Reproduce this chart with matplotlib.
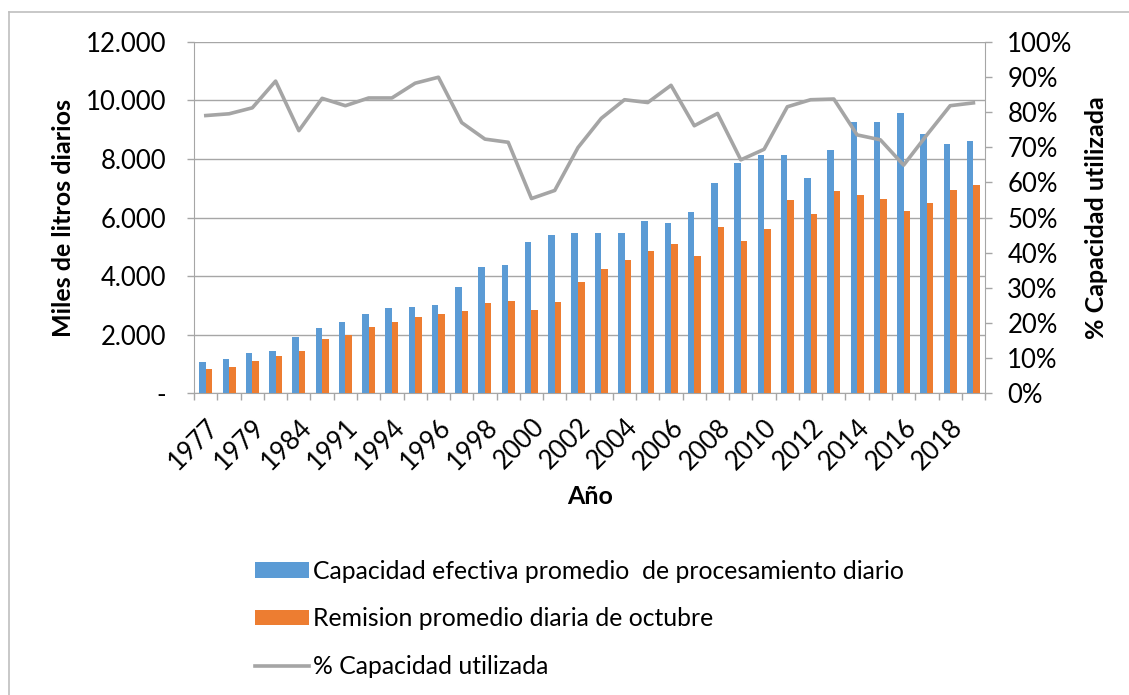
import matplotlib
matplotlib.use("Agg")
import matplotlib.pyplot as plt
from matplotlib.lines import Line2D
from matplotlib.ticker import FixedLocator, FuncFormatter
import numpy as np

plt.rcParams['font.family'] = ['Lato', 'DejaVu Sans']

years = [1977, 1978, 1979, 1982, 1984, 1988, 1991, 1993] + list(range(1994, 2020))

capacidad = [1057, 1159, 1363, 1443, 1920, 2215, 2420, 2704, 2908, 2954,
             3010, 3635, 4305, 4396, 5169, 5419, 5476, 5487, 5487, 5873,
             5828, 6180, 7168, 7861, 8122, 8122, 7339, 8293, 9247, 9247,
             9577, 8850, 8497, 8600]

remision = [829, 909, 1102, 1284, 1431, 1852, 1988, 2261, 2431, 2590,
            2704, 2795, 3090, 3135, 2851, 3113, 3817, 4260, 4567, 4862,
            5089, 4703, 5691, 5192, 5623, 6612, 6112, 6918, 6771, 6634,
            6214, 6487, 6941, 7100]

pct_utilizada = [79.0, 79.5, 81.2, 88.8, 74.7, 83.9, 81.8, 84.0, 84.0, 88.2,
                 89.9, 77.0, 72.3, 71.4, 55.4, 57.7, 69.9, 78.2, 83.5, 82.7,
                 87.6, 76.1, 79.6, 66.4, 69.4, 81.5, 83.5, 83.7, 73.5, 72.1,
                 64.9, 73.5, 81.8, 82.6]

labels = [str(y) for y in years]

BLUE = '#5B9BD5'
ORANGE = '#ED7D31'
GRAY = '#A5A5A5'
GRID = '#A6A6A6'
TICK_FS = 18.5
LAB_FS = 18

fig = plt.figure(figsize=(11.29, 6.95), dpi=100)
ax = fig.add_axes([0.172, 0.434, 0.7005, 0.506])

x = np.arange(len(years))
w = 0.28
b1 = ax.bar(x - w/2, capacidad, w, color=BLUE, zorder=3,
            label='Capacidad efectiva promedio  de procesamiento diario')
b2 = ax.bar(x + w/2, remision, w, color=ORANGE, zorder=3,
            label='Remision promedio diaria de octubre')

ax.set_xlim(-0.5, len(years) - 0.5)
ax.set_ylim(0, 12000)
ax.set_yticks(np.arange(0, 12001, 2000))
ax.yaxis.set_major_formatter(FuncFormatter(
    lambda v, p: '-' if v == 0 else f'{int(v):,}'.replace(',', '.')))
ax.yaxis.grid(True, color=GRID, linewidth=1.0, zorder=0)
ax.set_axisbelow(True)

ax.xaxis.set_major_locator(FixedLocator(x[::2]))
ax.set_xticklabels(labels[::2], rotation=45, ha='right', va='top',
                   rotation_mode='anchor')
ax.xaxis.set_minor_locator(FixedLocator(np.arange(-0.5, len(years), 1)))
ax.tick_params(axis='x', which='major', length=0, pad=15, labelsize=TICK_FS)
ax.tick_params(axis='x', which='minor', length=5, color=GRID, width=1)
ax.tick_params(axis='y', length=5, color=GRID, width=1, labelsize=TICK_FS, pad=15)

for s in ['top', 'right']:
    ax.spines[s].set_visible(False)
ax.spines['left'].set_color(GRID)
ax.spines['bottom'].set_color(GRID)

ax.set_xlabel('Año', fontsize=LAB_FS, fontweight='bold', labelpad=8)
ax.set_ylabel('Miles de litros diarios', fontsize=LAB_FS, fontweight='bold',
              labelpad=8)

ax2 = ax.twinx()
ln, = ax2.plot(x, pct_utilizada, color=GRAY, linewidth=2.6, zorder=4,
               label='% Capacidad utilizada')
ax2.set_ylim(0, 100)
ax2.set_yticks(np.arange(0, 101, 10))
ax2.yaxis.set_major_formatter(FuncFormatter(lambda v, p: f'{int(v)}%'))
ax2.tick_params(axis='y', length=5, color=GRID, width=1, labelsize=TICK_FS, pad=11)
for s in ['top', 'left', 'bottom']:
    ax2.spines[s].set_visible(False)
ax2.spines['right'].set_color(GRID)
ax2.set_ylabel('% Capacidad utilizada', fontsize=LAB_FS, fontweight='bold',
               rotation=90, labelpad=9)

fig.legend(handles=[b1, b2, ln], loc='upper left', bbox_to_anchor=(0.217, 0.209),
           frameon=False, fontsize=17.8, handlelength=2.2, handleheight=0.6,
           handletextpad=0.15, labelspacing=1.0, borderaxespad=0)

fig.add_artist(Line2D([0.008, 0.008], [0, 0.983], color='#BFBFBF', linewidth=1.2))
fig.add_artist(Line2D([0.008, 1.0], [0.983, 0.983], color='#BFBFBF', linewidth=1.2))

fig.savefig('out.png', dpi=100)
